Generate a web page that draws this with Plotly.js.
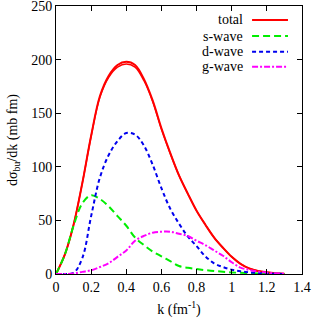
<!DOCTYPE html>
<html>
<head>
<meta charset="utf-8">
<script src="https://cdn.plot.ly/plotly-3.0.1.min.js"></script>
<style>
html,body{margin:0;padding:0;background:#fff}
#plot{width:313px;height:323px}
</style>
</head>
<body>
<div id="plot"></div>
<script>
const kValues = [0,0.05,0.1,0.15,0.2,0.25,0.3,0.35,0.4,0.45,0.5,0.55,0.6,0.65,0.7,0.75,0.8,0.85,0.9,0.95,1.0,1.05,1.1,1.15,1.2,1.25,1.3];
const totalA  = [0,18,46,85,129,166,185,195,198,195,182,162,136,113,92,75,59,46,34,24.5,16,9.5,5.2,2.8,1.6,0.8,0.3];
const totalB  = [0,18,46,85,128.5,165,183.5,193,196,193,180.5,161,135,112.5,92,75,59,46,34,24.5,16,9.5,5.2,2.8,1.6,0.8,0.3];
const sWave   = [0,18,45,66,73.5,70,63,54,45,34,27,21,16.5,12,7.5,5.8,4.6,3.6,2.8,2.1,1.5,1.1,0.8,0.5,0.35,0.2,0.1];
const dWave   = [0,0,1,15,54,90,111,124,131.5,130,120,102,80,61,47,35,26,16.5,10,6.5,4,2.5,1.5,0.8,0.4,0.2,0.1];
const gWave   = [0,0,0.5,2,3.5,6.5,10,16,22,31,35.5,38.5,39.5,39.5,37.5,35.5,31,27,22,17,11,6,3.8,2.3,1.3,0.6,0.3];
const legendNames = ["total","s-wave","d-wave","g-wave"];
const xTicks = [0,0.2,0.4,0.6,0.8,1,1.2,1.4];
const yTicks = [0,50,100,150,200,250];

const colors = ["#ff0000","#00ee00","#0000ee","#ff00ff"];
const dashes = ["solid","7px,4px","4px,3px","6px,2px,2px,2px"];
const FONT = "Liberation Serif, serif";

const traces = [
  {x:kValues,y:totalA,mode:"lines",line:{color:colors[0],width:2,shape:"spline"},showlegend:false},
  {x:kValues,y:totalB,mode:"lines",line:{color:colors[0],width:1.5,shape:"spline"},showlegend:false},
  {x:kValues,y:sWave,mode:"lines",line:{color:colors[1],width:2,dash:dashes[1],shape:"spline"},showlegend:false},
  {x:kValues,y:dWave,mode:"lines",line:{color:colors[2],width:2,dash:dashes[2],shape:"spline"},showlegend:false},
  {x:kValues,y:gWave,mode:"lines",line:{color:colors[3],width:2,dash:dashes[3],shape:"spline"},showlegend:false}
];

const rowY = [0.948,0.888,0.829,0.773];
const annotations = legendNames.map((n,i)=>({
  xref:"paper",yref:"paper",x:0.768,y:rowY[i],text:n,showarrow:false,
  xanchor:"right",yanchor:"middle",font:{family:FONT,size:14,color:"#000"}
}));
const shapes = legendNames.map((n,i)=>({
  type:"line",xref:"paper",yref:"paper",x0:0.797,x1:0.943,y0:rowY[i],y1:rowY[i],
  line:{color:colors[i],width:2,dash:dashes[i]}
}));

const axisCommon = {
  showline:true,linecolor:"#000",linewidth:1,mirror:"ticks",ticks:"inside",ticklen:5,
  tickcolor:"#000",showgrid:false,zeroline:false,ticklabeloverflow:"allow",
  tickfont:{family:FONT,size:14,color:"#000"}
};

const layout = {
  width:313,height:323,
  margin:{l:56,r:11,t:6,b:49},
  font:{family:FONT,size:14,color:"#000"},
  paper_bgcolor:"#fff",plot_bgcolor:"#fff",
  xaxis:Object.assign({},axisCommon,{range:[0,1.4],tickvals:xTicks,ticktext:xTicks.map(String),
    title:{text:"k (fm<sup>-1</sup>)",font:{family:FONT,size:14,color:"#000"},standoff:10}}),
  yaxis:Object.assign({},axisCommon,{range:[0,250],tickvals:yTicks,ticktext:yTicks.map(String),
    title:{text:"dσ<sub>bu</sub>/dk (mb fm)",font:{family:FONT,size:14,color:"#000"},standoff:10}}),
  annotations:annotations,
  shapes:shapes,
  showlegend:false
};

Plotly.newPlot("plot",traces,layout,{displayModeBar:false,staticPlot:true});
</script>
</body>
</html>
